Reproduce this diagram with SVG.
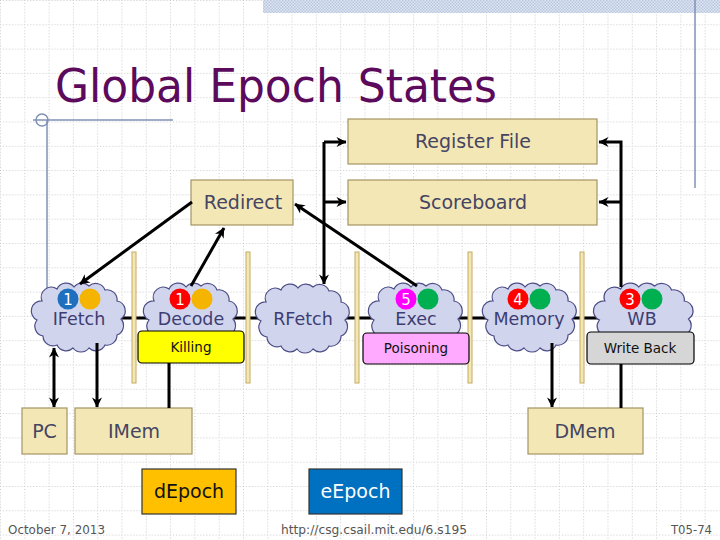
<svg xmlns="http://www.w3.org/2000/svg" width="720" height="540" viewBox="0 0 720 540">
<defs>
  <pattern id="grid" width="24.3" height="24.3" patternUnits="userSpaceOnUse">
    <path d="M0,0.5 H24.3 M0.5,0 V24.3" stroke="#c9c9c9" stroke-width="1" stroke-dasharray="1 2" fill="none"/>
  </pattern>
  <pattern id="band" width="3" height="3" patternUnits="userSpaceOnUse">
    <rect width="3" height="3" fill="#dfe6f2"/>
    <rect width="1.5" height="1.5" fill="#b9c7e0"/>
    <rect x="1.5" y="1.5" width="1.5" height="1.5" fill="#b9c7e0"/>
  </pattern>
  <path id="cloud" d="M-42,3 A10,10 0 0 1 -37,-16 A10,10 0 0 1 -22,-28 A10,10 0 0 1 -5,-30 A10,10 0 0 1 10,-31 A10,10 0 0 1 26,-27 A10,10 0 0 1 38,-16 A10,10 0 0 1 42,2 A10,10 0 0 1 38,18 A10,10 0 0 1 26,28 A10,10 0 0 1 10,31 A10,10 0 0 1 -6,31 A10,10 0 0 1 -22,28 A10,10 0 0 1 -36,19 A10,10 0 0 1 -42,3 Z"/>
  <marker id="arr" viewBox="0 0 12 12" refX="10.5" refY="6" markerWidth="12" markerHeight="12" markerUnits="userSpaceOnUse" orient="auto-start-reverse">
    <path d="M1,1 L11,6 L1,11 L4,6 Z" fill="#000"/>
  </marker>
  <style>
    .box{fill:#f4e7b6;stroke:#a39563;stroke-width:1.2}
    .lbl{font-family:"DejaVu Sans",Verdana,sans-serif;font-size:19px;fill:#454563;text-anchor:middle}
    .cl{fill:#d0d4ec;stroke:#4c4c86;stroke-width:1.2}
    .ctx{font-family:"DejaVu Sans",Verdana,sans-serif;font-size:17.5px;fill:#3d3d73;text-anchor:middle}
    .num{font-family:"DejaVu Sans",Verdana,sans-serif;font-size:15px;fill:#fff;text-anchor:middle}
    .bar{fill:#f4e7b6;stroke:#c4ab62;stroke-width:1}
    .tag{stroke:#000;stroke-width:1.2}
    .ttx{font-family:"DejaVu Sans",Verdana,sans-serif;font-size:13.5px;fill:#111;text-anchor:middle}
    .con{fill:none;stroke:#000;stroke-width:3}
    .deco{fill:none;stroke:#8190b6;stroke-width:1.5}
    .foot{font-family:"DejaVu Sans",Verdana,sans-serif;font-size:12.5px;fill:#555}
  </style>
</defs>

<rect width="720" height="540" fill="#fff"/>
<rect width="720" height="540" fill="url(#grid)"/>
<rect x="263" y="0" width="457" height="13" fill="url(#band)"/>
<line class="deco" x1="695" y1="0" x2="695" y2="188"/>
<line class="deco" x1="33" y1="120" x2="173" y2="120"/>
<line class="deco" x1="47" y1="120" x2="47" y2="292"/>
<circle class="deco" cx="42" cy="120" r="6"/>

<text x="55" y="102" font-family="DejaVu Sans, Verdana, sans-serif" font-size="47" fill="#5c0a5c" textLength="442" lengthAdjust="spacingAndGlyphs">Global Epoch States</text>

<g id="pipeline">
  <line x1="90" y1="318" x2="640" y2="318" stroke="#000" stroke-width="3"/>
</g>

<g id="stages">
  <rect class="bar" x="132" y="252" width="4" height="131"/>
  <rect class="bar" x="246" y="252" width="4" height="131"/>
  <rect class="bar" x="355" y="252" width="4" height="131"/>
  <rect class="bar" x="468" y="252" width="4" height="131"/>
  <rect class="bar" x="580" y="252" width="4" height="131"/>
</g>

<g id="regfile">
  <rect class="box" x="348" y="119" width="249" height="45"/>
  <text class="lbl" x="473" y="148">Register File</text>
</g>
<g id="scoreboard">
  <rect class="box" x="348" y="180" width="249" height="45"/>
  <text class="lbl" x="473" y="209">Scoreboard</text>
</g>
<g id="redirect">
  <rect class="box" x="191" y="180" width="102" height="45"/>
  <text class="lbl" x="243" y="209">Redirect</text>
</g>

<g id="ifetch">
  <use href="#cloud" class="cl" transform="translate(79,317)"/>
  <circle cx="68" cy="299" r="10.5" fill="#1f6fbf"/>
  <circle cx="90" cy="299" r="10.5" fill="#f5b400"/>
  <text class="num" x="68" y="305">1</text>
  <text class="ctx" x="79" y="325">IFetch</text>
</g>
<g id="decode">
  <use href="#cloud" class="cl" transform="translate(191,317)"/>
  <circle cx="180" cy="299" r="10.5" fill="#ff0000"/>
  <circle cx="202" cy="299" r="10.5" fill="#f5b400"/>
  <text class="num" x="180" y="305">1</text>
  <text class="ctx" x="191" y="325">Decode</text>
</g>
<g id="rfetch">
  <use href="#cloud" class="cl" transform="translate(303,318)"/>
  <text class="ctx" x="303" y="325">RFetch</text>
</g>
<g id="exec">
  <use href="#cloud" class="cl" transform="translate(416,317)"/>
  <circle cx="406" cy="299" r="10.5" fill="#ff00ff"/>
  <circle cx="428" cy="299" r="10.5" fill="#00b050"/>
  <text class="num" x="406" y="305">5</text>
  <text class="ctx" x="416" y="325">Exec</text>
</g>
<g id="memory">
  <use href="#cloud" class="cl" transform="translate(530,317)"/>
  <circle cx="518" cy="299" r="10.5" fill="#ff0000"/>
  <circle cx="540" cy="299" r="10.5" fill="#00b050"/>
  <text class="num" x="518" y="305">4</text>
  <text class="ctx" x="529" y="325">Memory</text>
</g>
<g id="wb">
  <use href="#cloud" class="cl" transform="translate(644,317) scale(1.06,1)"/>
  <circle cx="630" cy="299" r="10.5" fill="#ff0000"/>
  <circle cx="652" cy="299" r="10.5" fill="#00b050"/>
  <text class="num" x="630" y="305">3</text>
  <text class="ctx" x="642" y="325">WB</text>
</g>

<g id="killing">
  <rect class="tag" x="138" y="331" width="106" height="32" rx="4" fill="#ffff00"/>
  <text class="ttx" x="191" y="352">Killing</text>
</g>
<g id="poisoning">
  <rect class="tag" x="363" y="333" width="106" height="31" rx="4" fill="#ffaaff"/>
  <text class="ttx" x="416" y="353">Poisoning</text>
</g>
<g id="writeback">
  <rect class="tag" x="587" y="332" width="107" height="32" rx="4" fill="#d6d6d6"/>
  <text class="ttx" x="640" y="353">Write Back</text>
</g>

<g id="pc">
  <rect class="box" x="22" y="408" width="45" height="46"/>
  <text class="lbl" x="44.5" y="438">PC</text>
</g>
<g id="imem">
  <rect class="box" x="75" y="408" width="117" height="46"/>
  <text class="lbl" x="134" y="438">IMem</text>
</g>
<g id="dmem">
  <rect class="box" x="528" y="408" width="115" height="46"/>
  <text class="lbl" x="585" y="438">DMem</text>
</g>
<g id="depoch">
  <rect x="142" y="469" width="94" height="45" fill="#ffc000" stroke="#333" stroke-width="1.2"/>
  <text x="189" y="498" font-family="DejaVu Sans, Verdana, sans-serif" font-size="19" fill="#111" text-anchor="middle">dEpoch</text>
</g>
<g id="eepoch">
  <rect x="309" y="469" width="93" height="45" fill="#0070c0" stroke="#333" stroke-width="1.2"/>
  <text x="355.5" y="498" font-family="DejaVu Sans, Verdana, sans-serif" font-size="19" fill="#fff" text-anchor="middle">eEpoch</text>
</g>

<g id="connectors">
  <path class="con" d="M192,202 L80,284" marker-end="url(#arr)"/>
  <path class="con" d="M191,286 L224,228" marker-end="url(#arr)"/>
  <path class="con" d="M417,286 L295,204" marker-end="url(#arr)"/>
  <path class="con" d="M324,142 V284" marker-end="url(#arr)"/>
  <path class="con" d="M324,142 H346" marker-end="url(#arr)"/>
  <path class="con" d="M324,202 H346" marker-end="url(#arr)"/>
  <path class="con" d="M621,287 V142 H599" marker-end="url(#arr)"/>
  <path class="con" d="M621,202 H599" marker-end="url(#arr)"/>
  <path class="con" d="M54,348 V407" marker-start="url(#arr)" marker-end="url(#arr)"/>
  <path class="con" d="M97,343 V407" marker-end="url(#arr)"/>
  <path class="con" d="M169,363 V408" stroke-width="4"/>
  <path class="con" d="M552,343 V407" marker-end="url(#arr)"/>
  <path class="con" d="M621,364 V408" stroke-width="4"/>
</g>

<text class="foot" x="8" y="534" textLength="97" lengthAdjust="spacingAndGlyphs">October 7, 2013</text>
<text class="foot" x="281" y="534" textLength="186" lengthAdjust="spacingAndGlyphs">http://csg.csail.mit.edu/6.s195</text>
<text class="foot" x="671" y="534" textLength="41" lengthAdjust="spacingAndGlyphs">T05-74</text>
</svg>
